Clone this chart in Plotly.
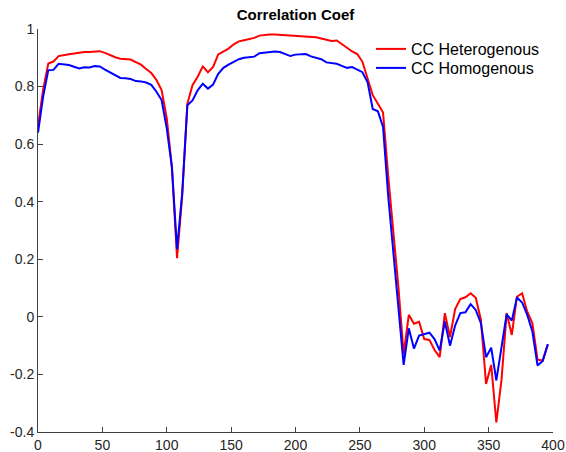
import plotly.graph_objects as go

# sample positions
x_vals = list(range(0, 400, 4))

cc_heterogenous = [
    0.663, 0.790, 0.880, 0.887, 0.906, 0.910, 0.912, 0.915, 0.918, 0.920,
    0.920, 0.921, 0.923, 0.917, 0.909, 0.902, 0.897, 0.896, 0.894, 0.885,
    0.876, 0.861, 0.847, 0.823, 0.788, 0.690, 0.520, 0.204, 0.420, 0.740,
    0.805, 0.834, 0.870, 0.850, 0.868, 0.912, 0.922, 0.932, 0.947, 0.957,
    0.961, 0.964, 0.969, 0.977, 0.980, 0.981, 0.981, 0.980, 0.977, 0.976,
    0.977, 0.976, 0.975, 0.974, 0.971, 0.967, 0.962, 0.958, 0.960, 0.949,
    0.935, 0.922, 0.913, 0.886, 0.832, 0.770, 0.740, 0.710, 0.490, 0.300,
    0.100, -0.130, 0.007, -0.024, -0.017, -0.077, -0.080, -0.115, -0.140, 0.013,
    -0.070, 0.027, 0.062, 0.068, 0.082, 0.066, -0.010, -0.233, -0.167, -0.367,
    -0.219, 0.013, -0.063, 0.070, 0.082, 0.018, -0.022, -0.149, -0.152, -0.097,
]

cc_homogenous = [
    0.640, 0.765, 0.857, 0.858, 0.879, 0.876, 0.875, 0.869, 0.863, 0.867,
    0.866, 0.871, 0.870, 0.859, 0.849, 0.839, 0.830, 0.829, 0.826, 0.819,
    0.818, 0.814, 0.806, 0.782, 0.753, 0.655, 0.520, 0.235, 0.430, 0.735,
    0.752, 0.787, 0.810, 0.793, 0.807, 0.844, 0.865, 0.876, 0.886, 0.895,
    0.900, 0.902, 0.904, 0.916, 0.918, 0.918, 0.922, 0.920, 0.912, 0.906,
    0.911, 0.912, 0.913, 0.905, 0.900, 0.895, 0.884, 0.882, 0.879, 0.872,
    0.865, 0.868, 0.860, 0.850, 0.815, 0.722, 0.714, 0.660, 0.420, 0.220,
    0.020, -0.167, -0.040, -0.110, -0.065, -0.060, -0.055, -0.077, -0.117, -0.016,
    -0.100, -0.030, 0.013, 0.016, 0.044, 0.024, -0.022, -0.140, -0.107, -0.221,
    -0.109, 0.009, -0.013, 0.067, 0.050, 0.007, -0.051, -0.169, -0.153, -0.094,
]

x_ticks = [0, 50, 100, 150, 200, 250, 300, 350, 400]
y_ticks = [-0.4, -0.2, 0, 0.2, 0.4, 0.6, 0.8, 1]
y_tick_text = ["-0.4", "-0.2", "0", "0.2", "0.4", "0.6", "0.8", "1"]

FONT = "Liberation Sans, Arial, Helvetica, sans-serif"
AXIS_COLOR = "#404040"

W, H = 566, 452
ML, MR, MT, MB = 38, 13, 29, 20
PW, PH = W - ML - MR, H - MT - MB

fig = go.Figure()
fig.add_trace(go.Scatter(x=x_vals, y=cc_heterogenous, mode="lines",
                         name="CC Heterogenous", legend="legend",
                         line=dict(color="#ff0000", width=2)))
fig.add_trace(go.Scatter(x=x_vals, y=cc_homogenous, mode="lines",
                         name="CC Homogenous", legend="legend2",
                         line=dict(color="#0000ff", width=2)))

legend_common = dict(xanchor="left", yanchor="top",
                     bgcolor="rgba(0,0,0,0)", borderwidth=0,
                     font=dict(family=FONT, size=16, color="black"))
legend_x = (371 - ML) / PW

fig.update_layout(
    width=W, height=H,
    margin=dict(l=ML, r=MR, t=MT, b=MB, pad=0, autoexpand=False),
    paper_bgcolor="white", plot_bgcolor="white",
    font=dict(family=FONT, size=14, color="#262626"),
    title=dict(text="<b>Correlation Coef</b>", x=0.5, xref="paper", xanchor="center",
               y=1 - 15 / H, yanchor="middle",
               font=dict(family=FONT, size=15, color="black")),
    showlegend=True,
    legend=dict(x=legend_x, y=1 - (32 - MT) / PH, **legend_common),
    legend2=dict(x=legend_x, y=1 - (51 - MT) / PH, **legend_common),
    xaxis=dict(range=[0, 400], tickvals=x_ticks, showgrid=False, zeroline=False,
               showline=True, linecolor=AXIS_COLOR, linewidth=1,
               ticks="inside", ticklen=5, tickcolor=AXIS_COLOR, automargin=False,
               tickfont=dict(size=14, color="#262626"), mirror=False),
    yaxis=dict(range=[-0.4, 1], tickvals=y_ticks, ticktext=y_tick_text,
               showgrid=False, zeroline=False,
               showline=True, linecolor=AXIS_COLOR, linewidth=1,
               ticks="inside", ticklen=5, tickcolor=AXIS_COLOR, automargin=False,
               tickfont=dict(size=14, color="#262626"), mirror=False),
)

fig.write_html("out.html",
               config={"displayModeBar": False, "staticPlot": True},
               post_script="document.body.style.margin='0px';"
                           "document.body.style.overflow='hidden';")
